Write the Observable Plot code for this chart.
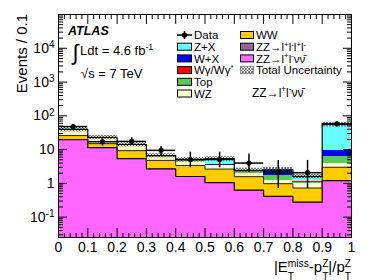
<!DOCTYPE html>
<html><head><meta charset="utf-8">
<script src="https://cdn.jsdelivr.net/npm/d3@7"></script>
<script src="https://cdn.jsdelivr.net/npm/@observablehq/plot@0.6"></script>
<style>
html,body{margin:0;padding:0;background:#fff;}
#chart{width:390px;height:280px;}
</style></head><body><div id="chart"></div>
<script>
// ---- data ----
const binLo = [0, 0.1, 0.2, 0.3, 0.4, 0.5, 0.6, 0.7, 0.8, 0.9];
const binHi = [0.1, 0.2, 0.3, 0.4, 0.5, 0.6, 0.7, 0.8, 0.9, 1.0];
const zzllvv = [19.6, 11.4, 5.4, 2.7, 1.6, 1.05, 0.63, 0.41, 0.28, 1.2];
const ww     = [6.4, 3.6, 3.9, 2.1, 1.8, 1.6, 0.95, 0.57, 0.45, 1.8];
const wz     = [11, 6.4, 3.7, 1.5, 1.2, 0.7, 0.4, 0.25, 0.25, 0.8];
const topBkg = [0.4, 0.3, 0.3, 0.1, 0.1, 0.14, 0.3, 0.49, 0.11, 2.6];
const wgamma = [0.03, 0.03, 0.03, 0.01, 0.01, 0.01, 0.01, 0.01, 0.01, 0.05];
const wx     = [0.5, 0.3, 0.3, 0.1, 0.1, 0.1, 0.05, 0.68, 0.05, 3.1];
const zx     = [1.5, 0.9, 0.5, 0.1, 0.2, 1.8, 0.1, 0.1, 0.45, 46];
const zz4l   = [0.05, 0.04, 0.03, 0.02, 0.02, 0.02, 0.01, 0.01, 0.01, 0.05];
const dataVal = [48, 17.1, 17.5, 9.5, 5.1, 5.1, 4.0, 2.16, 2.07, 58];
const dataLo  = [41, 12.7, 13.3, 6.7, 2.9, 2.9, 2.1, 0.7, 0.7, 50.5];
const dataHi  = [55, 21, 22.5, 12.4, 8.4, 8.4, 7.4, 4.8, 4.8, 66];
const uncRel  = [0.15, 0.15, 0.15, 0.15, 0.15, 0.15, 0.15, 0.17, 0.15, 0.15];
const xTicks = [0, 0.1, 0.2, 0.3, 0.4, 0.5, 0.6, 0.7, 0.8, 0.9, 1];
const xTickLabels = ["0", "0.1", "0.2", "0.3", "0.4", "0.5", "0.6", "0.7", "0.8", "0.9", "1"];
const yTicks = [0.1, 1, 10, 100, 1000, 10000];
const yTickLabels = ["10^-1", "1", "10", "10^2", "10^3", "10^4"];
const yDomain = [0.025, 1e5];
const colZZllvv = "#ff66ff", colWW = "#ffcc00", colWZ = "#ffffcc", colTop = "#55cc55",
      colWg = "#ff0000", colWX = "#0000ee", colZX = "#66ffff", colZZ4l = "#996699";

// ---- build stack ----
const stackOrder = [
  {v: zzllvv, c: colZZllvv}, {v: ww, c: colWW}, {v: wz, c: colWZ}, {v: topBkg, c: colTop},
  {v: wgamma, c: colWg}, {v: wx, c: colWX}, {v: zx, c: colZX}, {v: zz4l, c: colZZ4l}
];
const rects = [];
const cum = stackOrder.map(() => []);
binLo.forEach((lo, i) => {
  let c = 0;
  stackOrder.forEach((s, j) => {
    const y1 = j === 0 ? yDomain[0] : c;
    c += s.v[i];
    cum[j][i] = c;
    rects.push({x1: lo, x2: binHi[i], y1, y2: c, fill: s.c});
  });
});
const total = cum[cum.length - 1];
function stepPts(arr) {
  const p = binLo.map((x, i) => ({x, y: arr[i]}));
  p.push({x: 1, y: arr[arr.length - 1]});
  return p;
}
const band = binLo.map((lo, i) => ({x1: lo, x2: binHi[i], y1: total[i] * (1 - uncRel[i]), y2: total[i] * (1 + uncRel[i])}));
const dataRows = binLo.map((lo, i) => ({lo, hi: binHi[i], c: (lo + binHi[i]) / 2, v: dataVal[i], elo: dataLo[i], ehi: dataHi[i]}));

const yMinor = [];
for (let e = -2; e <= 4; e++) for (let k = 2; k <= 9; k++) {
  const v = k * Math.pow(10, e);
  if (v > yDomain[0] && v < yDomain[1]) yMinor.push(v);
}
const xMinor = d3.range(0, 51).map(i => i / 50).filter(v => Math.abs(v * 10 - Math.round(v * 10)) > 1e-6);

const plot = Plot.plot({
  width: 390, height: 280,
  marginLeft: 58, marginRight: 39, marginTop: 14, marginBottom: 43,
  x: {domain: [0, 1], label: null},
  y: {type: "log", domain: yDomain, label: null},
  color: {type: "identity"},
  style: {fontFamily: "'Liberation Sans', Arial, Helvetica, sans-serif", fontSize: "14px", background: "#fff", color: "#000"},
  marks: [
    Plot.rect(rects, {x1: "x1", x2: "x2", y1: "y1", y2: "y2", fill: "fill", shapeRendering: "crispEdges"}),
    Plot.rect(band, {x1: "x1", x2: "x2", y1: "y1", y2: "y2", fill: "url(#hatchPat)"}),
    Plot.line(stepPts(cum[0]), {x: "x", y: "y", curve: "step-after", stroke: "#000", strokeWidth: 1.2}),
    Plot.line(stepPts(cum[1]), {x: "x", y: "y", curve: "step-after", stroke: "#222", strokeWidth: 1}),
    Plot.line(stepPts(total), {x: "x", y: "y", curve: "step-after", stroke: "#000", strokeWidth: 1.2}),
    Plot.ruleY(dataRows, {x1: "lo", x2: "hi", y: "v", stroke: "#000", strokeWidth: 1.5}),
    Plot.ruleX(dataRows, {x: "c", y1: "elo", y2: "ehi", stroke: "#000", strokeWidth: 1.5}),
    Plot.dot(dataRows, {x: "c", y: "v", r: 2.6, fill: "#000"}),
    Plot.axisY(yTicks, {anchor: "left", tickSize: -9, fill: "none"}),
    Plot.axisY(yMinor, {anchor: "left", tickSize: -5, fill: "none"}),
    Plot.axisY(yTicks, {anchor: "right", tickSize: -9, fill: "none"}),
    Plot.axisY(yMinor, {anchor: "right", tickSize: -5, fill: "none"}),
    Plot.axisY(yTicks, {anchor: "left", tickSize: 0, tickPadding: 4, fontSize: 14, tickFormat: d => yTickLabels[yTicks.indexOf(d)]}),
    Plot.axisX(xTicks, {anchor: "bottom", tickSize: -9, fill: "none"}),
    Plot.axisX(xMinor, {anchor: "bottom", tickSize: -4, fill: "none"}),
    Plot.axisX(xTicks, {anchor: "top", tickSize: -9, fill: "none"}),
    Plot.axisX(xMinor, {anchor: "top", tickSize: -4, fill: "none"}),
    Plot.axisX(xTicks, {anchor: "bottom", tickSize: 0, tickPadding: 5, fontSize: 14, tickFormat: d => xTickLabels[xTicks.indexOf(d)]}),
    Plot.frame({stroke: "#000", strokeWidth: 1})
  ]
});
document.getElementById("chart").appendChild(plot);
const svg = d3.select(plot);

// hatch pattern
const defs = svg.insert("defs", ":first-child");
const pat = defs.append("pattern").attr("id", "hatchPat").attr("patternUnits", "userSpaceOnUse").attr("width", 3).attr("height", 3);
pat.append("path").attr("d", "M0,0L3,3M3,0L0,3").attr("stroke", "#444").attr("stroke-width", 0.7).attr("fill", "none");

// y tick superscripts
svg.selectAll('g[aria-label="y-axis tick label"] text').each(function () {
  const t = d3.select(this);
  const s = t.text();
  if (s.includes("^")) {
    const [b, e] = s.split("^");
    t.text(null);
    t.append("tspan").text(b);
    t.append("tspan").attr("dy", "-0.45em").attr("font-size", "10px").text(e);
  }
});

// rich text helper
function rich(parent, x, y, parts, fs, anchor, attrs) {
  const g = parent.append("g").attr("text-anchor", "start");
  if (attrs) Object.entries(attrs).forEach(([k, v]) => g.attr(k, v));
  let cx = 0;
  for (const p of parts) {
    if (typeof p === "string") {
      const t = g.append("text").attr("x", cx).attr("y", 0).attr("font-size", fs).text(p);
      cx += t.node().getComputedTextLength();
    } else {
      let w = 0;
      if (p.sup != null) {
        const t = g.append("text").attr("x", cx).attr("y", -fs * (p.supOff ?? 0.38)).attr("font-size", fs * 0.68).text(p.sup);
        w = Math.max(w, t.node().getComputedTextLength());
      }
      if (p.sub != null) {
        const t = g.append("text").attr("x", cx).attr("y", fs * 0.5).attr("font-size", fs * 0.68).text(p.sub);
        w = Math.max(w, t.node().getComputedTextLength());
      }
      cx += w;
    }
  }
  const off = anchor === "end" ? -cx : anchor === "middle" ? -cx / 2 : 0;
  g.attr("transform", `translate(${x + off},${y})`);
  return g;
}

const ann = svg.append("g").attr("fill", "#000").attr("text-anchor", "start").attr("font-family", "'Liberation Sans', Arial, Helvetica, sans-serif");
// y label
ann.append("text").attr("transform", "translate(26.5,14) rotate(-90)").attr("text-anchor", "end").attr("font-size", 15).text("Events / 0.1");
// x title
rich(ann, 351, 272, ["|E", {sup: "miss", sub: "T", supOff: 0.33}, "-p", {sup: "Z", sub: "T", supOff: 0.33}, "|/p", {sup: "Z", sub: "T", supOff: 0.33}], 15, "end");
// ATLAS
ann.append("text").attr("x", 68).attr("y", 35).attr("font-size", 12.5).attr("font-weight", "bold").attr("font-style", "italic").text("ATLAS");
ann.append("text").attr("x", 72.5).attr("y", 60).attr("font-size", 22).text("∫");
rich(ann, 80, 55, ["Ldt = 4.6 fb", {sup: "-1", supOff: 0.42}], 13, "start");
ann.append("text").attr("x", 81).attr("y", 78).attr("font-size", 13).text("√s = 7 TeV");
rich(ann, 252, 97, ["ZZ→l", {sup: "+"}, "l", {sup: "-"}, "νν\u0304"], 12, "start");

// legend
const legCol1 = ["Data", "Z+X", "W+X", "Wγ/Wγ*", "Top", "WZ"];
const legCol1Colors = [null, colZX, colWX, colWg, colTop, colWZ];
const legCol2 = ["WW", "ZZ→l+l-l+l-", "ZZ→l+l-νν̄", "Total Uncertainty"];
const legCol2Colors = [colWW, colZZ4l, colZZllvv, "url(#hatchPat)"];
const rowY = i => 35 + 11.7 * i;
const lfs = 11.5;
legCol1.forEach((lab, i) => {
  const cy = rowY(i);
  if (i === 0) {
    ann.append("line").attr("x1", 177).attr("x2", 192).attr("y1", cy).attr("y2", cy).attr("stroke", "#000").attr("stroke-width", 1.5);
    ann.append("line").attr("x1", 184.5).attr("x2", 184.5).attr("y1", cy - 4).attr("y2", cy + 4).attr("stroke", "#000").attr("stroke-width", 1.5);
    ann.append("circle").attr("cx", 184.5).attr("cy", cy).attr("r", 2.6).attr("fill", "#000");
  } else {
    ann.append("rect").attr("x", 177.5).attr("y", cy - 3.5).attr("width", 14).attr("height", 7).attr("fill", legCol1Colors[i]).attr("stroke", "#000").attr("stroke-width", 1);
  }
  if (lab === "Wγ/Wγ*") rich(ann, 194, cy + 4.2, ["Wγ/Wγ", {sup: "*"}], lfs, "start");
  else ann.append("text").attr("x", 194).attr("y", cy + 4.2).attr("font-size", lfs).text(lab);
});
legCol2.forEach((lab, i) => {
  const cy = rowY(i);
  ann.append("rect").attr("x", 240.5).attr("y", cy - 3.5).attr("width", 13).attr("height", 7).attr("fill", legCol2Colors[i]).attr("stroke", i === 3 ? "#888" : "#000").attr("stroke-width", 1);
  if (i === 1) rich(ann, 256, cy + 4.2, ["ZZ→l", {sup: "+"}, "l", {sup: "-"}, "l", {sup: "+"}, "l", {sup: "-"}], lfs, "start");
  else if (i === 2) rich(ann, 256, cy + 4.2, ["ZZ→l", {sup: "+"}, "l", {sup: "-"}, "νν\u0304"], lfs, "start");
  else ann.append("text").attr("x", 256).attr("y", cy + 4.2).attr("font-size", lfs).text(lab);
});
</script></body></html>
